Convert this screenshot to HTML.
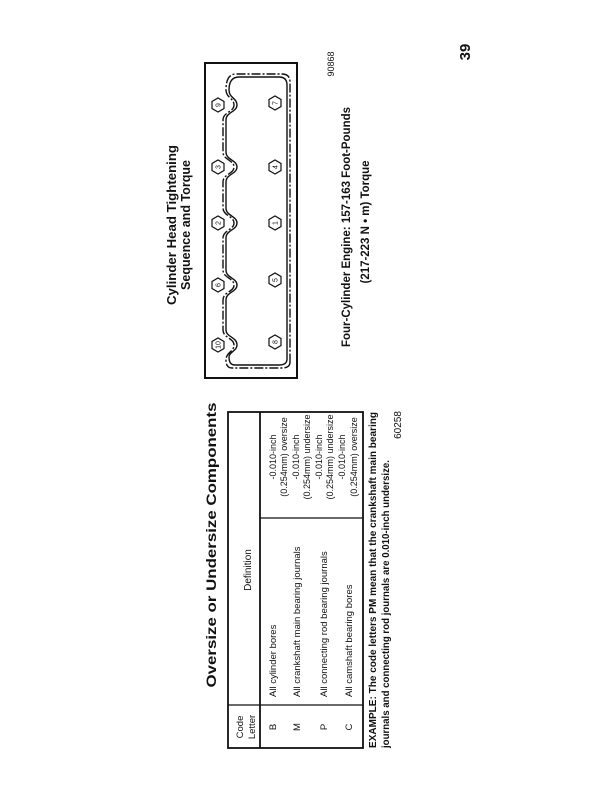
<!DOCTYPE html>
<html><head><meta charset="utf-8"><style>
html,body{margin:0;padding:0;background:#fff;}
svg{display:block;}
text{font-family:"Liberation Sans",sans-serif;fill:#111;}
</style></head><body>
<svg width="612" height="792" viewBox="0 0 612 792" xmlns="http://www.w3.org/2000/svg">
<g transform="translate(0,792) rotate(-90)">
<text x="247" y="216" text-anchor="middle" font-size="14" font-weight="bold" textLength="285" lengthAdjust="spacingAndGlyphs">Oversize or Undersize Components</text>
<rect x="44" y="228" width="336" height="135" fill="none" stroke="#111" stroke-width="1.8"/>
<line x1="44" y1="260" x2="380" y2="260" stroke="#111" stroke-width="1.8"/>
<line x1="87" y1="228" x2="87" y2="363" stroke="#111" stroke-width="1.2"/>
<line x1="274" y1="260" x2="274" y2="363" stroke="#111" stroke-width="1.2"/>
<g font-size="9.5">
<text x="65" y="243" text-anchor="middle">Code</text>
<text x="65" y="255" text-anchor="middle">Letter</text>
<text x="222" y="251" text-anchor="middle" font-size="10">Definition</text>
<text x="65" y="276" text-anchor="middle">B</text>
<text x="65" y="300" text-anchor="middle">M</text>
<text x="65" y="327" text-anchor="middle">P</text>
<text x="65" y="352" text-anchor="middle">C</text>
<text x="95" y="276">All cylinder bores</text>
<text x="95" y="300">All crankshaft main bearing journals</text>
<text x="95" y="327">All connecting rod bearing journals</text>
<text x="95" y="352">All camshaft bearing bores</text>
</g>
<g font-size="9">
<text x="335" y="276" text-anchor="middle">-0.010-inch</text>
<text x="335" y="287" text-anchor="middle">(0.254mm) oversize</text>
<text x="335" y="299" text-anchor="middle">-0.010-inch</text>
<text x="335" y="310" text-anchor="middle">(0.254mm) undersize</text>
<text x="335" y="322" text-anchor="middle">-0.010-inch</text>
<text x="335" y="333" text-anchor="middle">(0.254mm) undersize</text>
<text x="335" y="345" text-anchor="middle">-0.010-inch</text>
<text x="335" y="357" text-anchor="middle">(0.254mm) oversize</text>
</g>
<text x="44" y="376" font-size="10" font-weight="bold" textLength="336" lengthAdjust="spacingAndGlyphs">EXAMPLE: The code letters PM mean that the crankshaft main bearing</text>
<text x="44" y="389" font-size="10" font-weight="bold" textLength="288" lengthAdjust="spacingAndGlyphs">journals and connecting rod journals are 0.010-inch undersize.</text>
<text x="367" y="401" font-size="10" text-anchor="middle">60258</text>

<text x="567" y="176" text-anchor="middle" font-size="13" font-weight="bold" textLength="160" lengthAdjust="spacingAndGlyphs">Cylinder Head Tightening</text>
<text x="567" y="190" text-anchor="middle" font-size="13" font-weight="bold" textLength="130" lengthAdjust="spacingAndGlyphs">Sequence and Torque</text>
<rect x="414" y="205" width="315" height="92" fill="none" stroke="#111" stroke-width="2"/>
<g fill="none" stroke="#111">
<path d="M430 290 Q424 290 424 282 L424 232 Q424 226 432 226 C440 226 440 234 447 234 C454 234 454 223 462 223 L492 223 C500 223 500 234 507 234 C514 234 514 223 522 223 L554 223 C562 223 562 234 569 234 C576 234 576 223 584 223 L610 223 C618 223 618 234 625 234 C632 234 632 223 640 223 L672 223 C680 223 680 234 687 234 C694 234 694 226 702 226 Q718 226 718 236 L718 282 Q718 290 710 290 Z" stroke-width="1.4" stroke-dasharray="9 2 2 2"/>
<path d="M433 287 Q427 287 427 279 L427 235 Q427 229 435 229 C440 229 441 237 447 237 C455 237 455 226 462 226 L492 226 C500 226 500 237 507 237 C514 237 514 226 522 226 L554 226 C562 226 562 237 569 237 C576 237 576 226 584 226 L610 226 C618 226 618 237 625 237 C632 237 632 226 640 226 L672 226 C680 226 680 237 687 237 C694 237 694 229 702 229 Q715 229 715 239 L715 279 Q715 287 707 287 Z" stroke-width="1.4"/>
</g>
<g stroke="#111" stroke-width="1.2" fill="#fff">
<polygon points="440,218 443.5,212 450.5,212 454,218 450.5,224 443.5,224"/>
<polygon points="500,218 503.5,212 510.5,212 514,218 510.5,224 503.5,224"/>
<polygon points="562,218 565.5,212 572.5,212 576,218 572.5,224 565.5,224"/>
<polygon points="618,218 621.5,212 628.5,212 632,218 628.5,224 621.5,224"/>
<polygon points="680,218 683.5,212 690.5,212 694,218 690.5,224 683.5,224"/>
<polygon points="443,275 446.5,269 453.5,269 457,275 453.5,281 446.5,281"/>
<polygon points="505,275 508.5,269 515.5,269 519,275 515.5,281 508.5,281"/>
<polygon points="562,275 565.5,269 572.5,269 576,275 572.5,281 565.5,281"/>
<polygon points="618,275 621.5,269 628.5,269 632,275 628.5,281 621.5,281"/>
<polygon points="682,275 685.5,269 692.5,269 696,275 692.5,281 685.5,281"/>
</g>
<g font-size="7" text-anchor="middle">
<text x="447" y="220.5">10</text>
<text x="507" y="220.5">6</text>
<text x="569" y="220.5">2</text>
<text x="625" y="220.5">3</text>
<text x="687" y="220.5">9</text>
<text x="450" y="277.5">8</text>
<text x="512" y="277.5">5</text>
<text x="569" y="277.5">1</text>
<text x="625" y="277.5">4</text>
<text x="689" y="277.5">7</text>
</g>
<text x="565" y="350" text-anchor="middle" font-size="12" font-weight="bold" textLength="240" lengthAdjust="spacingAndGlyphs">Four-Cylinder Engine: 157-163 Foot-Pounds</text>
<text x="570" y="369" text-anchor="middle" font-size="12" font-weight="bold" textLength="123" lengthAdjust="spacingAndGlyphs">(217-223 N • m) Torque</text>
<text x="728" y="334" text-anchor="middle" font-size="9">90868</text>
<text x="740" y="470" text-anchor="middle" font-size="15" font-weight="bold">39</text>
</g>
</svg>
</body></html>
